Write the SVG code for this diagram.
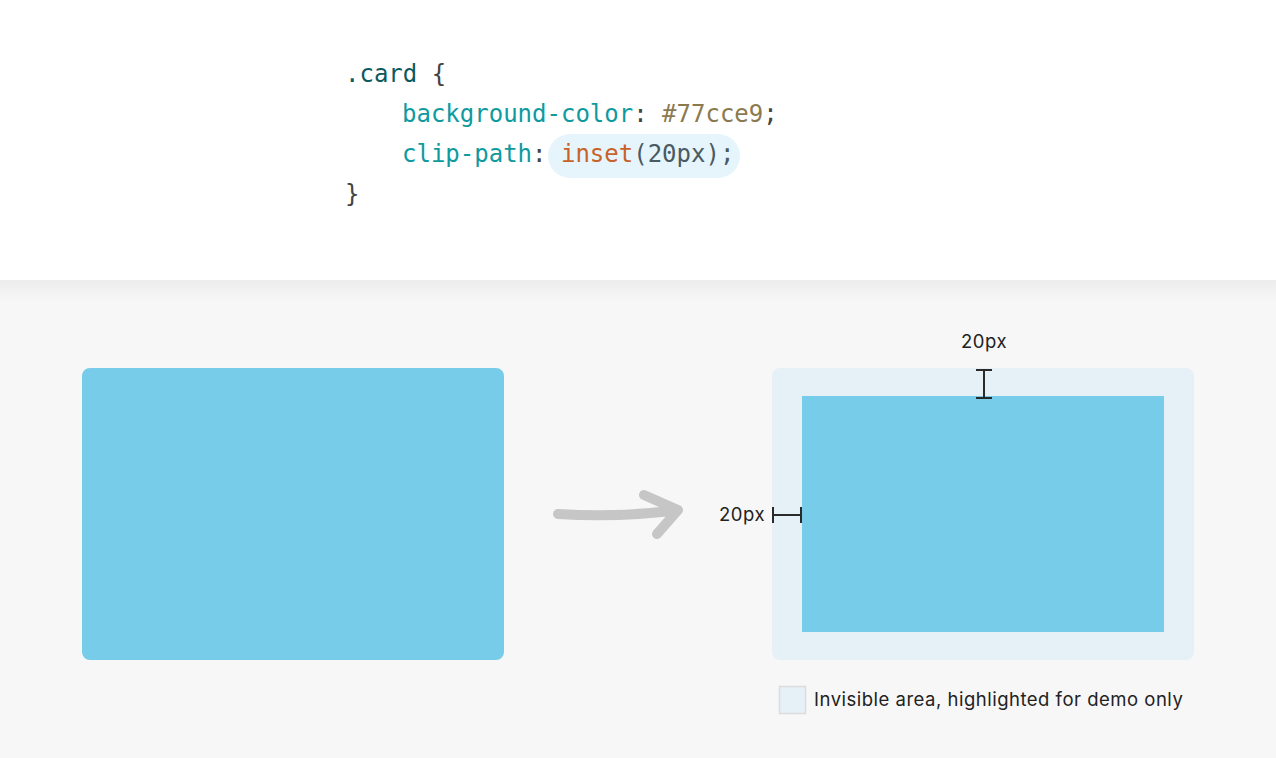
<svg xmlns="http://www.w3.org/2000/svg" width="1276" height="758" viewBox="0 0 1276 758">
<defs>
<linearGradient id="sh" x1="0" y1="0" x2="0" y2="1">
<stop offset="0" stop-color="#ececec"/>
<stop offset="1" stop-color="#f7f7f7"/>
</linearGradient>
</defs>
<style>
.code{font-family:"DejaVu Sans Mono",monospace;font-size:24px}
.lbl{font-family:Inter,"Liberation Sans",sans-serif;font-size:18.5px;letter-spacing:0.5px;fill:#222}
.dim{stroke:#2a2a2a;stroke-width:2;fill:none}
</style>
<rect x="0" y="0" width="1276" height="758" fill="#f7f7f7"/>
<rect x="0" y="280" width="1276" height="22" fill="url(#sh)"/>
<rect x="0" y="0" width="1276" height="280" fill="#ffffff"/>
<g id="code">
<rect x="548" y="134" width="192" height="44" rx="22" fill="#e6f4fb"/>
<text class="code" x="345" y="82"><tspan fill="#0b5a5e">.card</tspan><tspan fill="#444"> {</tspan></text>
<text class="code" x="402" y="122"><tspan fill="#0e9a9e">background-color</tspan><tspan fill="#444">: </tspan><tspan fill="#8b7a4f">#77cce9</tspan><tspan fill="#444">;</tspan></text>
<text class="code" x="402" y="162"><tspan fill="#0e9a9e">clip-path</tspan><tspan fill="#444">: </tspan><tspan fill="#c8622a">inset</tspan><tspan fill="#4a5a63">(20px);</tspan></text>
<text class="code" x="345" y="202" fill="#444">}</text>
</g>
<g id="card-before">
<rect x="82" y="368" width="422" height="292" rx="8" fill="#77cce9"/>
</g>
<g id="connectors">
<path d="M558 514 Q620 518 678 510 M644 495 L678 510 L657 534" fill="none" stroke="#c6c6c6" stroke-width="10" stroke-linecap="round" stroke-linejoin="round"/>
</g>
<g id="card-after">
<rect x="772" y="368" width="422" height="292" rx="8" fill="#e6f1f7"/>
<rect x="802" y="396" width="362" height="236" fill="#77cce9"/>
</g>
<g id="dim-top">
<path class="dim" d="M984 370 V398 M976 370 H992 M976 398 H992"/>
<text class="lbl" x="984" y="348" text-anchor="middle">20px</text>
</g>
<g id="dim-left">
<path class="dim" d="M773 515 H801 M773 507 V523 M801 507 V523"/>
<text class="lbl" x="765" y="521" text-anchor="end">20px</text>
</g>
<g id="legend">
<rect x="779.5" y="686.5" width="26" height="27" fill="#e6f1f7" stroke="#dcdcdc" stroke-width="1.5"/>
<text class="lbl" x="814" y="706">Invisible area, highlighted for demo only</text>
</g>
</svg>
